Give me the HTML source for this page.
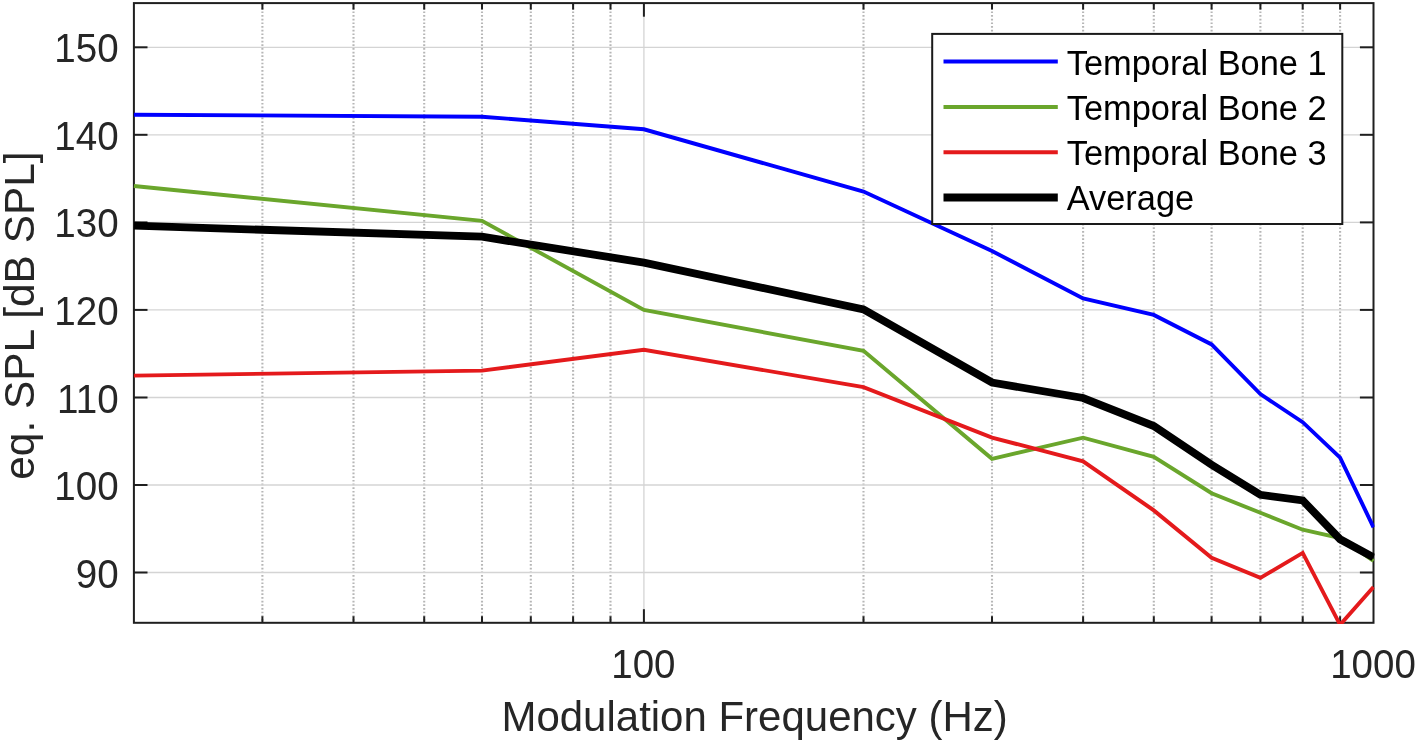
<!DOCTYPE html>
<html lang="en"><head><meta charset="utf-8"><title>eq. SPL vs Modulation Frequency</title>
<style>
html,body{margin:0;padding:0;background:#fff;}
body{width:1416px;height:744px;overflow:hidden;}
svg{display:block;}
text{font-family:"Liberation Sans",Arial,Helvetica,sans-serif;fill:#262626;}
</style></head><body>
<svg width="1416" height="744" viewBox="0 0 1416 744">
<rect x="0" y="0" width="1416" height="744" fill="#ffffff"/>
<defs><clipPath id="ax"><rect x="132.9" y="3.1" width="1241.6" height="620.9"/></clipPath></defs>

<g stroke="#b6b6b6" stroke-width="2.1" stroke-dasharray="1.7 1.96" fill="none">
<line x1="262.4" y1="4.1" x2="262.4" y2="621.8"/>
<line x1="353.5" y1="4.1" x2="353.5" y2="621.8"/>
<line x1="424.2" y1="4.1" x2="424.2" y2="621.8"/>
<line x1="482.0" y1="4.1" x2="482.0" y2="621.8"/>
<line x1="530.8" y1="4.1" x2="530.8" y2="621.8"/>
<line x1="573.1" y1="4.1" x2="573.1" y2="621.8"/>
<line x1="610.5" y1="4.1" x2="610.5" y2="621.8"/>
<line x1="863.5" y1="4.1" x2="863.5" y2="621.8"/>
<line x1="992.0" y1="4.1" x2="992.0" y2="621.8"/>
<line x1="1083.1" y1="4.1" x2="1083.1" y2="621.8"/>
<line x1="1153.8" y1="4.1" x2="1153.8" y2="621.8"/>
<line x1="1211.6" y1="4.1" x2="1211.6" y2="621.8"/>
<line x1="1260.4" y1="4.1" x2="1260.4" y2="621.8"/>
<line x1="1302.7" y1="4.1" x2="1302.7" y2="621.8"/>
<line x1="1340.1" y1="4.1" x2="1340.1" y2="621.8"/>
</g>
<g stroke="#d4d4d4" stroke-width="1.3" fill="none">
<line x1="133.9" y1="572.5" x2="1373.5" y2="572.5"/>
<line x1="133.9" y1="485.0" x2="1373.5" y2="485.0"/>
<line x1="133.9" y1="397.5" x2="1373.5" y2="397.5"/>
<line x1="133.9" y1="309.9" x2="1373.5" y2="309.9"/>
<line x1="133.9" y1="222.4" x2="1373.5" y2="222.4"/>
<line x1="133.9" y1="134.8" x2="1373.5" y2="134.8"/>
<line x1="133.9" y1="47.3" x2="1373.5" y2="47.3"/>
<line x1="643.9" y1="3.1" x2="643.9" y2="622.8"/>
</g>
<g stroke="#1f1f1f" stroke-width="2" fill="none">
<line x1="133.9" y1="572.5" x2="147.5" y2="572.5"/>
<line x1="1373.5" y1="572.5" x2="1359.9" y2="572.5"/>
<line x1="133.9" y1="485.0" x2="147.5" y2="485.0"/>
<line x1="1373.5" y1="485.0" x2="1359.9" y2="485.0"/>
<line x1="133.9" y1="397.5" x2="147.5" y2="397.5"/>
<line x1="1373.5" y1="397.5" x2="1359.9" y2="397.5"/>
<line x1="133.9" y1="309.9" x2="147.5" y2="309.9"/>
<line x1="1373.5" y1="309.9" x2="1359.9" y2="309.9"/>
<line x1="133.9" y1="222.4" x2="147.5" y2="222.4"/>
<line x1="1373.5" y1="222.4" x2="1359.9" y2="222.4"/>
<line x1="133.9" y1="134.8" x2="147.5" y2="134.8"/>
<line x1="1373.5" y1="134.8" x2="1359.9" y2="134.8"/>
<line x1="133.9" y1="47.3" x2="147.5" y2="47.3"/>
<line x1="1373.5" y1="47.3" x2="1359.9" y2="47.3"/>
<line x1="643.9" y1="622.8" x2="643.9" y2="609.1999999999999"/>
<line x1="643.9" y1="3.1" x2="643.9" y2="16.7"/>
<line x1="262.4" y1="622.8" x2="262.4" y2="616.3"/>
<line x1="262.4" y1="3.1" x2="262.4" y2="9.6"/>
<line x1="353.5" y1="622.8" x2="353.5" y2="616.3"/>
<line x1="353.5" y1="3.1" x2="353.5" y2="9.6"/>
<line x1="424.2" y1="622.8" x2="424.2" y2="616.3"/>
<line x1="424.2" y1="3.1" x2="424.2" y2="9.6"/>
<line x1="482.0" y1="622.8" x2="482.0" y2="616.3"/>
<line x1="482.0" y1="3.1" x2="482.0" y2="9.6"/>
<line x1="530.8" y1="622.8" x2="530.8" y2="616.3"/>
<line x1="530.8" y1="3.1" x2="530.8" y2="9.6"/>
<line x1="573.1" y1="622.8" x2="573.1" y2="616.3"/>
<line x1="573.1" y1="3.1" x2="573.1" y2="9.6"/>
<line x1="610.5" y1="622.8" x2="610.5" y2="616.3"/>
<line x1="610.5" y1="3.1" x2="610.5" y2="9.6"/>
<line x1="863.5" y1="622.8" x2="863.5" y2="616.3"/>
<line x1="863.5" y1="3.1" x2="863.5" y2="9.6"/>
<line x1="992.0" y1="622.8" x2="992.0" y2="616.3"/>
<line x1="992.0" y1="3.1" x2="992.0" y2="9.6"/>
<line x1="1083.1" y1="622.8" x2="1083.1" y2="616.3"/>
<line x1="1083.1" y1="3.1" x2="1083.1" y2="9.6"/>
<line x1="1153.8" y1="622.8" x2="1153.8" y2="616.3"/>
<line x1="1153.8" y1="3.1" x2="1153.8" y2="9.6"/>
<line x1="1211.6" y1="622.8" x2="1211.6" y2="616.3"/>
<line x1="1211.6" y1="3.1" x2="1211.6" y2="9.6"/>
<line x1="1260.4" y1="622.8" x2="1260.4" y2="616.3"/>
<line x1="1260.4" y1="3.1" x2="1260.4" y2="9.6"/>
<line x1="1302.7" y1="622.8" x2="1302.7" y2="616.3"/>
<line x1="1302.7" y1="3.1" x2="1302.7" y2="9.6"/>
<line x1="1340.1" y1="622.8" x2="1340.1" y2="616.3"/>
<line x1="1340.1" y1="3.1" x2="1340.1" y2="9.6"/>
</g>
<rect x="133.9" y="3.1" width="1239.6" height="619.6999999999999" fill="none" stroke="#1f1f1f" stroke-width="2"/>
<g clip-path="url(#ax)" fill="none" stroke-linejoin="miter" stroke-linecap="butt">
<polyline points="133.9,114.7 482.0,116.7 643.9,129.3 863.5,191.6 992.0,251.0 1083.1,298.5 1153.8,314.9 1211.6,344.4 1260.4,394.1 1302.7,422.2 1340.1,457.6 1373.5,527.3" stroke="#0000ff" stroke-width="3.9"/>
<polyline points="133.9,186.0 482.0,220.9 643.9,309.9 863.5,350.8 992.0,458.8 1083.1,437.7 1153.8,456.9 1211.6,493.2 1260.4,512.8 1302.7,529.7 1340.1,538.0 1373.5,561.0" stroke="#6aa62c" stroke-width="3.9"/>
<polyline points="133.9,375.6 482.0,370.6 643.9,349.8 863.5,387.1 992.0,437.6 1083.1,461.3 1153.8,510.4 1211.6,557.7 1260.4,577.9 1302.7,552.9 1340.1,624.8 1373.5,587.0" stroke="#e41a1c" stroke-width="3.9"/>
<polyline points="133.9,225.7 482.0,236.7 643.9,262.6 863.5,309.4 992.0,382.5 1083.1,398.0 1153.8,426.0 1211.6,464.8 1260.4,494.8 1302.7,500.4 1340.1,539.3 1373.5,557.3" stroke="#000000" stroke-width="7.8"/>
</g>
<g font-size="38.6" text-anchor="end">
<text transform="translate(118.6,587.5) scale(1,1.055)">90</text>
<text transform="translate(118.6,500.0) scale(1,1.055)">100</text>
<text transform="translate(118.6,412.5) scale(1,1.055)">110</text>
<text transform="translate(118.6,324.9) scale(1,1.055)">120</text>
<text transform="translate(118.6,237.4) scale(1,1.055)">130</text>
<text transform="translate(118.6,149.8) scale(1,1.055)">140</text>
<text transform="translate(118.6,62.3) scale(1,1.055)">150</text>
</g>
<g font-size="38.5" text-anchor="middle">
<text transform="translate(643.4,677.5) scale(1,1.055)">100</text>
<text transform="translate(1373.0,677.5) scale(1,1.055)">1000</text>
</g>
<text transform="translate(754.6,731.4) scale(1,1.015)" font-size="42" text-anchor="middle">Modulation Frequency (Hz)</text>
<text transform="translate(33.6,315.6) rotate(-90)" font-size="42.4" text-anchor="middle">eq. SPL [dB SPL]</text>
<rect x="932.2" y="33.9" width="410.1" height="190.1" fill="#ffffff" stroke="#1a1a1a" stroke-width="2"/>
<line x1="943.5" y1="61.5" x2="1057.8" y2="61.5" stroke="#0000ff" stroke-width="4"/>
<text x="1066.7" y="74.9" font-size="34.4" style="fill:#000">Temporal Bone 1</text>
<line x1="943.5" y1="107.0" x2="1057.8" y2="107.0" stroke="#6aa62c" stroke-width="4"/>
<text x="1066.7" y="120.0" font-size="34.4" style="fill:#000">Temporal Bone 2</text>
<line x1="943.5" y1="152.3" x2="1057.8" y2="152.3" stroke="#e41a1c" stroke-width="4"/>
<text x="1066.7" y="165.0" font-size="34.4" style="fill:#000">Temporal Bone 3</text>
<line x1="943.5" y1="197.4" x2="1057.8" y2="197.4" stroke="#000000" stroke-width="8"/>
<text x="1066.7" y="210.1" font-size="34.4" style="fill:#000">Average</text>
</svg></body></html>
